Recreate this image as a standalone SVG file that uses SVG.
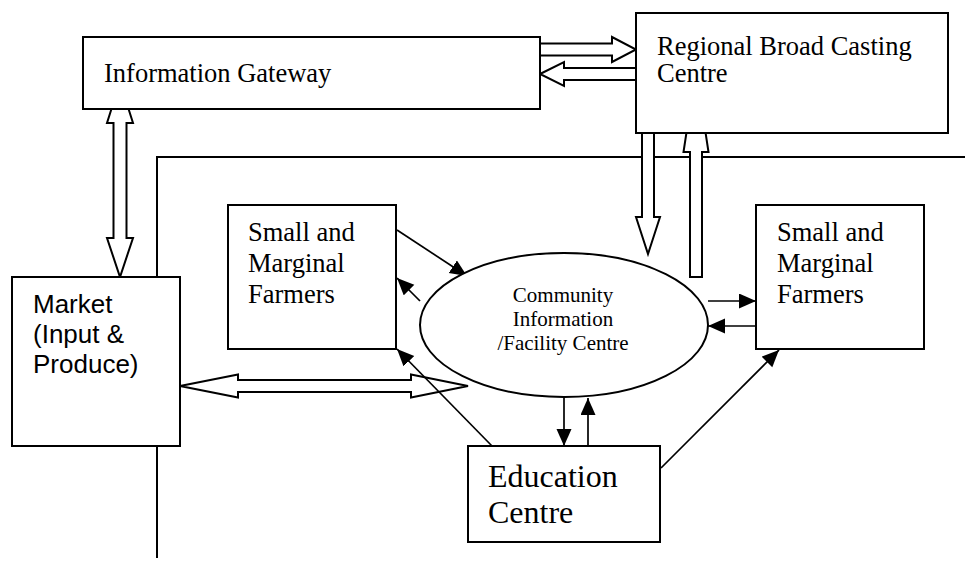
<svg xmlns="http://www.w3.org/2000/svg" width="965" height="561" viewBox="0 0 965 561">
<style>
.box{fill:#fff;stroke:#000;stroke-width:2}
.blk{fill:#fff;stroke:#000;stroke-width:2;stroke-linejoin:miter}
.ln{fill:none;stroke:#000;stroke-width:2}
.ar{fill:none;stroke:#000;stroke-width:1.7}
.t{font-family:"Liberation Serif","Times New Roman",serif;font-size:26.5px;fill:#000}
.ts{font-family:"Liberation Serif","Times New Roman",serif;font-size:21px;fill:#000;text-anchor:middle}
.te{font-family:"Liberation Serif","Times New Roman",serif;font-size:32px;fill:#000}
.ta{font-family:"Liberation Sans",Arial,sans-serif;font-size:26px;fill:#000}
</style>
<defs>
<marker id="ah" markerUnits="userSpaceOnUse" markerWidth="18" markerHeight="16" refX="17" refY="7.5" orient="auto" viewBox="0 0 18 16">
<path d="M0,0 L17,7.5 L0,15 z" fill="#000"/>
</marker>
</defs>
<rect width="965" height="561" fill="#fff"/>
<g id="connectors">
<polyline class="ln" points="157,558 157,157 965,157"/>
<polygon class="blk" points="120,82 133,123 126.5,123 126.5,238 133,238 120,277 107,238 113.5,238 113.5,123 107,123"/>
<polygon class="blk" points="540,43.5 612,43.5 612,37 636,49.5 612,62 612,55.5 540,55.5"/>
<polygon class="blk" points="540,74 564,62 564,68 636,68 636,80 564,80 564,86"/>
<polygon class="blk" points="642,125 654,125 654,217 660,217 648,254 636,217 642,217"/>
<polygon class="blk" points="696,70 708.5,152 702,152 702,277 690,277 690,152 683.5,152"/>
<polygon class="blk" points="180,386 238,374.5 238,380 411,380 411,374.5 468,386 411,397.5 411,392 238,392 238,397.5"/>
<line class="ar" x1="397" y1="230" x2="467" y2="276" marker-end="url(#ah)"/>
<line class="ar" x1="420" y1="301" x2="397" y2="278" marker-end="url(#ah)"/>
<line class="ar" x1="708" y1="301" x2="756" y2="301" marker-end="url(#ah)"/>
<line class="ar" x1="756" y1="326" x2="708" y2="326" marker-end="url(#ah)"/>
<line class="ar" x1="564" y1="397" x2="564" y2="446" marker-end="url(#ah)"/>
<line class="ar" x1="588" y1="446" x2="588" y2="398" marker-end="url(#ah)"/>
<line class="ar" x1="492" y1="446" x2="397" y2="349" marker-end="url(#ah)"/>
<line class="ar" x1="661" y1="468" x2="779" y2="350" marker-end="url(#ah)"/>
</g>
<g id="information-gateway">
<rect class="box" x="83" y="37" width="457" height="72"/>
<text class="t" x="104" y="82">Information Gateway</text>
</g>
<g id="regional-broadcasting">
<rect class="box" x="636" y="13" width="312" height="120"/>
<text class="t" x="657" y="55">Regional Broad Casting</text>
<text class="t" x="657" y="82">Centre</text>
</g>
<g id="market">
<rect class="box" x="12" y="277" width="168" height="169"/>
<text class="ta" x="33" y="313">Market</text>
<text class="ta" x="33" y="343">(Input &amp;</text>
<text class="ta" x="33" y="373">Produce)</text>
</g>
<g id="farmers-left">
<rect class="box" x="228" y="205" width="168" height="144"/>
<text class="t" x="248" y="241">Small and</text>
<text class="t" x="248" y="272">Marginal</text>
<text class="t" x="248" y="303">Farmers</text>
</g>
<g id="farmers-right">
<rect class="box" x="756" y="205" width="168" height="144"/>
<text class="t" x="777" y="241">Small and</text>
<text class="t" x="777" y="272">Marginal</text>
<text class="t" x="777" y="303">Farmers</text>
</g>
<g id="community-centre">
<ellipse class="box" cx="564" cy="325" rx="144" ry="72"/>
<text class="ts" x="563" y="302">Community</text>
<text class="ts" x="563" y="326">Information</text>
<text class="ts" x="563" y="350">/Facility Centre</text>
</g>
<g id="education-centre">
<rect class="box" x="468" y="446" width="192" height="96"/>
<text class="te" x="488" y="487">Education</text>
<text class="te" x="488" y="523">Centre</text>
</g>
</svg>
